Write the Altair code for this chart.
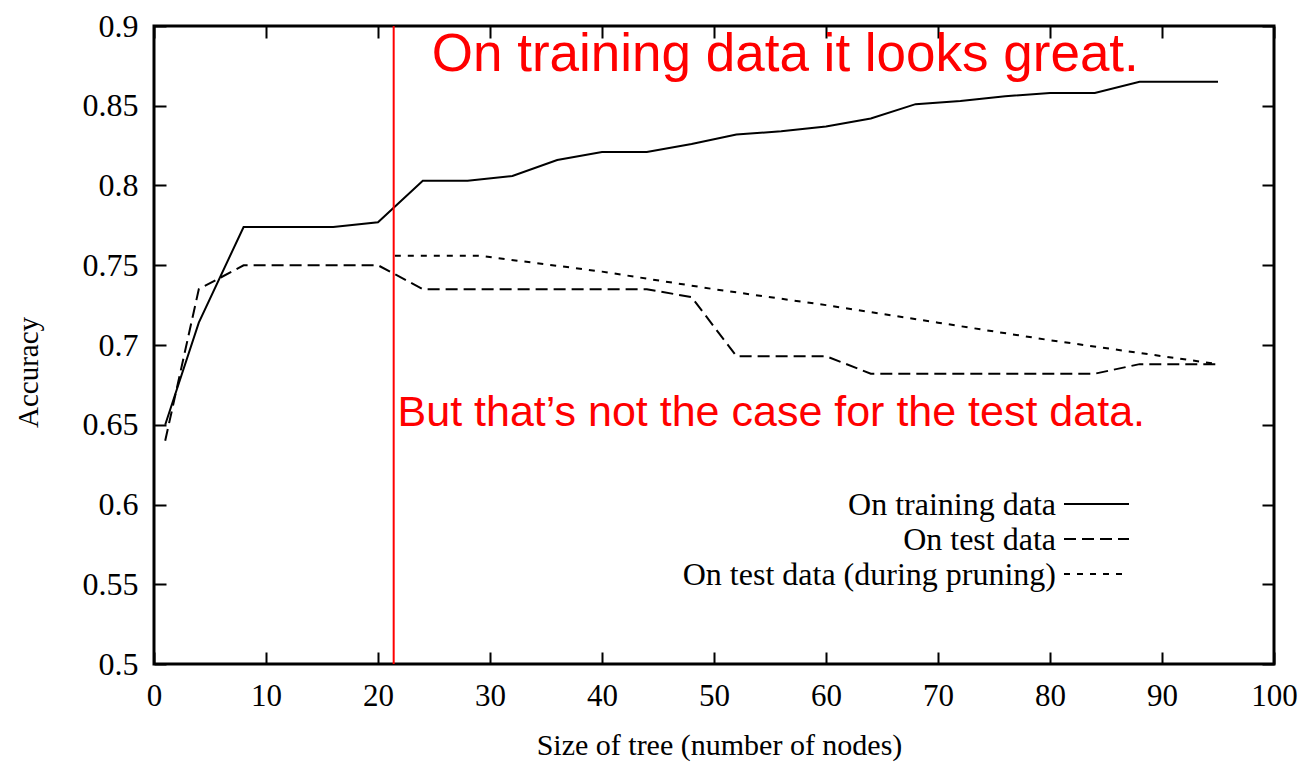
import altair as alt
import pandas as pd

# ---- data ----
train_x = [1, 4, 8, 16, 20, 24, 28, 32, 36, 40, 44, 48, 52, 56, 60, 64, 68, 72, 76, 80, 84, 88, 95]
train_y = [0.650, 0.714, 0.774, 0.774, 0.777, 0.803, 0.803, 0.806, 0.816, 0.821, 0.821, 0.826,
           0.832, 0.834, 0.837, 0.842, 0.851, 0.853, 0.856, 0.858, 0.858, 0.865, 0.865]

test_x = [1, 4, 8, 20, 24, 44, 48, 52, 60, 64, 84, 88, 95]
test_y = [0.640, 0.735, 0.750, 0.750, 0.735, 0.735, 0.730, 0.693, 0.693, 0.682, 0.682, 0.688, 0.688]

prune_x = [21.5, 29, 40, 50, 60, 70, 80, 88, 95]
prune_y = [0.756, 0.756, 0.746, 0.735, 0.725, 0.714, 0.703, 0.695, 0.688]

marker_x = [21.4]

x_ticks = [0, 10, 20, 30, 40, 50, 60, 70, 80, 90, 100]
y_ticks = [0.5, 0.55, 0.6, 0.65, 0.7, 0.75, 0.8, 0.85, 0.9]

series_names = ["On training data", "On test data", "On test data (during pruning)"]

note_texts = ["On training data it looks great.", "But that\u2019s not the case for the test data."]
note_x = [24.8, 21.75]
note_y = [0.8717, 0.649]

# ---- layout ----
W, H = 1120, 638
SERIF = "Liberation Serif"
SANS = "Liberation Sans"

xscale = alt.Scale(domain=[0, 100], nice=False, zero=False)
yscale = alt.Scale(domain=[0.5, 0.9], nice=False, zero=False)

xaxis = alt.Axis(
    values=x_ticks, title="Size of tree (number of nodes)",
    labelFont=SERIF, labelFontSize=31, labelColor="black", labelPadding=17,
    labelFlush=False, labelOverlap=False,
    ticks=False, domain=False,
    grid=True, gridColor="black", gridWidth=2, gridOpacity=1,
    gridDash=[12, H - 24, 12, 3000],
    titleFont=SERIF, titleFontSize=30, titleFontWeight="normal", titleColor="black",
    titleX=W / 2 + 5, titleY=81, titleBaseline="middle", titleAlign="center",
)
yaxis = alt.Axis(
    values=y_ticks, format=".2~f", title="Accuracy",
    labelFont=SERIF, labelFontSize=32, labelColor="black", labelPadding=16,
    labelOverlap=False,
    ticks=False, domain=False,
    grid=True, gridColor="black", gridWidth=2, gridOpacity=1,
    gridDash=[12, W - 24, 12, 3000],
    titleFont=SERIF, titleFontSize=29, titleFontWeight="normal", titleColor="black",
    titleAngle=270, titleX=-126, titleY=346, titleBaseline="middle", titleAlign="center",
)

def line_layer(xs, ys, dash):
    df = pd.DataFrame({"x": xs, "y": ys})
    kw = dict(color="black", strokeWidth=2, clip=True)
    if dash:
        kw["strokeDash"] = dash
    return alt.Chart(df).mark_line(**kw).encode(
        x=alt.X("x:Q", scale=xscale, axis=xaxis),
        y=alt.Y("y:Q", scale=yscale, axis=yaxis),
    )

train = line_layer(train_x, train_y, None)
test = line_layer(test_x, test_y, [12, 6])
prune = line_layer(prune_x, prune_y, [6, 7])

red_rule = alt.Chart(pd.DataFrame({"x": marker_x})).mark_rule(color="#ff0000", strokeWidth=2).encode(
    x=alt.X("x:Q", scale=xscale)
)

notes_df = pd.DataFrame({"x": note_x, "y": note_y, "t": note_texts})
note1 = alt.Chart(notes_df.iloc[[0]]).mark_text(
    color="#ff0000", font=SANS, fontSize=53, align="left", baseline="alphabetic"
).encode(x=alt.X("x:Q", scale=xscale), y=alt.Y("y:Q", scale=yscale), text="t:N")
note2 = alt.Chart(notes_df.iloc[[1]]).mark_text(
    color="#ff0000", font=SANS, fontSize=43, align="left", baseline="alphabetic"
).encode(x=alt.X("x:Q", scale=xscale), y=alt.Y("y:Q", scale=yscale), text="t:N")

# ---- manual key (labels left of the line samples) ----
key_rows = [478, 513, 548]
key_dash = [None, [12, 6], [6, 7]]
key_layers = []
for name, row, dash in zip(series_names, key_rows, key_dash):
    d = pd.DataFrame({"label": [name]})
    kw = dict(color="black", strokeWidth=2)
    if dash:
        kw["strokeDash"] = dash
    key_layers.append(
        alt.Chart(d).mark_rule(**kw).encode(
            x=alt.value(910), x2=alt.value(975), y=alt.value(row)
        )
    )
    key_layers.append(
        alt.Chart(d).mark_text(
            align="right", baseline="middle", font=SERIF, fontSize=32, color="black", dy=1
        ).encode(x=alt.value(902), y=alt.value(row), text="label:N")
    )

chart = alt.layer(train, test, prune, red_rule, note1, note2, *key_layers).properties(
    width=W, height=H,
    autosize=alt.AutoSizeParams(type="none"),
    padding={"left": 146, "top": 18, "right": 24, "bottom": 100},
    background="white",
).configure_view(stroke="black", strokeWidth=3)

chart.save("out.html", embed_options={"renderer": "svg", "actions": False})
